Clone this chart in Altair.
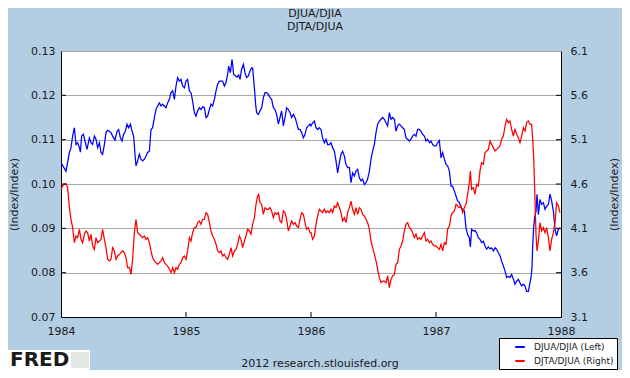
import altair as alt
import pandas as pd

# ---------------- data ----------------
title_lines = ["DJUA/DJIA", "DJTA/DJUA"]
series_names = ["DJUA/DJIA (Left)", "DJTA/DJUA (Right)"]
x_ticks = [1984, 1985, 1986, 1987, 1988]
left_ticks = [0.07, 0.08, 0.09, 0.10, 0.11, 0.12, 0.13]
right_ticks = [3.1, 3.6, 4.1, 4.6, 5.1, 5.6, 6.1]
axis_title = "(Index/Index)"
footer = "2012 research.stlouisfed.org"
logo = "FRED"

djua_djia_t = [
    1984.000, 1984.040, 1984.067, 1984.080, 1984.093, 1984.107, 1984.120, 1984.133, 1984.147, 1984.155,
    1984.165, 1984.179, 1984.192, 1984.208, 1984.227, 1984.240, 1984.253, 1984.267, 1984.280, 1984.293,
    1984.307, 1984.320, 1984.333, 1984.347, 1984.360, 1984.373, 1984.387, 1984.400, 1984.413, 1984.432,
    1984.448, 1984.461, 1984.475, 1984.488, 1984.501, 1984.515, 1984.528, 1984.541, 1984.555, 1984.565,
    1984.581, 1984.592, 1984.600, 1984.613, 1984.627, 1984.640, 1984.653, 1984.667, 1984.680, 1984.693,
    1984.707, 1984.720, 1984.733, 1984.747, 1984.760, 1984.773, 1984.787, 1984.800, 1984.813, 1984.827,
    1984.840, 1984.853, 1984.867, 1984.880, 1984.893, 1984.907, 1984.920, 1984.933, 1984.947, 1984.960,
    1984.973, 1984.987,
    1985.000, 1985.013, 1985.027, 1985.040, 1985.053, 1985.067, 1985.080, 1985.093, 1985.107, 1985.120,
    1985.133, 1985.147, 1985.160, 1985.173, 1985.187, 1985.200, 1985.213, 1985.227, 1985.240, 1985.253,
    1985.267, 1985.280, 1985.293, 1985.307, 1985.320, 1985.333, 1985.341, 1985.355, 1985.368, 1985.373,
    1985.381, 1985.395, 1985.408, 1985.421, 1985.432, 1985.445, 1985.459, 1985.472, 1985.485, 1985.499,
    1985.512, 1985.525, 1985.533, 1985.541, 1985.549, 1985.557, 1985.565, 1985.579, 1985.592, 1985.605,
    1985.619, 1985.632, 1985.645, 1985.659, 1985.672, 1985.685, 1985.699, 1985.712, 1985.725, 1985.739,
    1985.752, 1985.765, 1985.779, 1985.792, 1985.805, 1985.819, 1985.832, 1985.845, 1985.859, 1985.872,
    1985.885, 1985.899, 1985.912, 1985.925, 1985.939, 1985.952, 1985.965, 1985.979, 1985.992,
    1986.000, 1986.013, 1986.027, 1986.040, 1986.053, 1986.067, 1986.080, 1986.093, 1986.107, 1986.120,
    1986.133, 1986.147, 1986.160, 1986.173, 1986.187, 1986.200, 1986.213, 1986.227, 1986.240, 1986.253,
    1986.267, 1986.280, 1986.293, 1986.307, 1986.320, 1986.333, 1986.347, 1986.360, 1986.373, 1986.387,
    1986.400, 1986.413, 1986.427, 1986.440, 1986.453, 1986.467, 1986.480, 1986.493, 1986.507, 1986.520,
    1986.533, 1986.547, 1986.560, 1986.573, 1986.587, 1986.600, 1986.613, 1986.627, 1986.640, 1986.653,
    1986.667, 1986.680, 1986.693, 1986.707, 1986.720, 1986.733, 1986.747, 1986.760, 1986.773, 1986.787,
    1986.800, 1986.813, 1986.827, 1986.840, 1986.853, 1986.867, 1986.880, 1986.893, 1986.907, 1986.920,
    1986.933, 1986.947, 1986.960, 1986.973, 1986.987,
    1987.000, 1987.013, 1987.027, 1987.040, 1987.053, 1987.067, 1987.080, 1987.093, 1987.107, 1987.120,
    1987.133, 1987.147, 1987.160, 1987.173, 1987.187, 1987.200, 1987.213, 1987.227, 1987.240, 1987.253,
    1987.267, 1987.275, 1987.285, 1987.299, 1987.312, 1987.325, 1987.339, 1987.352, 1987.365, 1987.379,
    1987.392, 1987.405, 1987.419, 1987.432, 1987.445, 1987.459, 1987.472, 1987.485, 1987.499, 1987.512,
    1987.525, 1987.539, 1987.552, 1987.565, 1987.579, 1987.592, 1987.605, 1987.619, 1987.632, 1987.645,
    1987.659, 1987.672, 1987.685, 1987.699, 1987.712, 1987.725, 1987.739, 1987.747, 1987.760, 1987.768,
    1987.773, 1987.781, 1987.789, 1987.800, 1987.808, 1987.819, 1987.832, 1987.845, 1987.859, 1987.872,
    1987.885, 1987.899, 1987.912, 1987.925, 1987.939, 1987.952, 1987.965, 1987.979, 1987.992,
]
djua_djia_v = [
    0.1048, 0.1029, 0.1071, 0.1082, 0.1108, 0.1127, 0.1089, 0.1093, 0.1082, 0.1072,
    0.1108, 0.1112, 0.1097, 0.1078, 0.1104, 0.1093, 0.1089, 0.1108, 0.1101, 0.1082,
    0.1093, 0.1071, 0.1067, 0.1089, 0.1116, 0.1121, 0.1119, 0.1116, 0.1108, 0.1099,
    0.1119, 0.1123, 0.1104, 0.1097, 0.1112, 0.1119, 0.1135, 0.1127, 0.1135, 0.1123,
    0.1108, 0.1067, 0.1041, 0.1052, 0.1067, 0.1056, 0.1052, 0.1056, 0.1063, 0.1071,
    0.1074, 0.1123, 0.1127, 0.1150, 0.1168, 0.1176, 0.1183, 0.1176, 0.1180, 0.1176,
    0.1172, 0.1183, 0.1191, 0.1206, 0.1210, 0.1191, 0.1221, 0.1240, 0.1232, 0.1236,
    0.1221, 0.1217,
    0.1232, 0.1236, 0.1210, 0.1206, 0.1187, 0.1161, 0.1153, 0.1165, 0.1172, 0.1168,
    0.1174, 0.1172, 0.1150, 0.1153, 0.1168, 0.1180, 0.1176, 0.1191, 0.1210, 0.1225,
    0.1232, 0.1232, 0.1232, 0.1221, 0.1229, 0.1247, 0.1266, 0.1251, 0.1281, 0.1270,
    0.1247, 0.1244, 0.1241, 0.1246, 0.1236, 0.1259, 0.1270, 0.1251, 0.1240, 0.1244,
    0.1255, 0.1262, 0.1262, 0.1236, 0.1210, 0.1180, 0.1161, 0.1157, 0.1165, 0.1172,
    0.1195, 0.1206, 0.1206, 0.1202, 0.1195, 0.1191, 0.1172, 0.1168, 0.1157, 0.1135,
    0.1150, 0.1165, 0.1131, 0.1150, 0.1172, 0.1168, 0.1161, 0.1150, 0.1157, 0.1150,
    0.1138, 0.1123, 0.1123, 0.1116, 0.1104, 0.1112, 0.1127, 0.1131, 0.1135,
    0.1131, 0.1138, 0.1142, 0.1127, 0.1123, 0.1127, 0.1123, 0.1104, 0.1093, 0.1101,
    0.1089, 0.1089, 0.1093, 0.1082, 0.1074, 0.1052, 0.1025, 0.1048, 0.1067, 0.1074,
    0.1063, 0.1044, 0.1037, 0.1037, 0.1003, 0.1025, 0.1018, 0.1029, 0.1033, 0.1014,
    0.1007, 0.1011, 0.0999, 0.1003, 0.1011, 0.1029, 0.1056, 0.1074, 0.1089, 0.1116,
    0.1135, 0.1142, 0.1146, 0.1150, 0.1146, 0.1138, 0.1131, 0.1161, 0.1146, 0.1150,
    0.1146, 0.1119, 0.1131, 0.1135, 0.1131, 0.1127, 0.1123, 0.1104, 0.1101, 0.1097,
    0.1101, 0.1108, 0.1112, 0.1108, 0.1123, 0.1123, 0.1119, 0.1112, 0.1108, 0.1097,
    0.1101, 0.1093, 0.1097, 0.1089, 0.1086,
    0.1086, 0.1093, 0.1098, 0.1059, 0.1071, 0.1056, 0.1044, 0.1041, 0.1029, 0.0995,
    0.0995, 0.0984, 0.0973, 0.0962, 0.0958, 0.0947, 0.0943, 0.0939, 0.0901, 0.0886,
    0.0879, 0.0858, 0.0898, 0.0894, 0.0895, 0.0890, 0.0879, 0.0875, 0.0868, 0.0871,
    0.0860, 0.0853, 0.0858, 0.0854, 0.0856, 0.0849, 0.0856, 0.0853, 0.0845, 0.0838,
    0.0826, 0.0815, 0.0804, 0.0789, 0.0792, 0.0789, 0.0796, 0.0785, 0.0774, 0.0781,
    0.0785, 0.0777, 0.0770, 0.0774, 0.0770, 0.0758, 0.0758, 0.0770, 0.0789, 0.0811,
    0.0856, 0.0901, 0.0924, 0.0939, 0.0977, 0.0931, 0.0965, 0.0954, 0.0958, 0.0943,
    0.0950, 0.0954, 0.0977, 0.0962, 0.0939, 0.0898, 0.0883, 0.0898, 0.0901,
]

djta_djua_t = [
    1984.000, 1984.013, 1984.027, 1984.040, 1984.053, 1984.067, 1984.080, 1984.093, 1984.107, 1984.120,
    1984.133, 1984.147, 1984.160, 1984.173, 1984.187, 1984.200, 1984.213, 1984.227, 1984.240, 1984.253,
    1984.267, 1984.280, 1984.293, 1984.307, 1984.320, 1984.333, 1984.347, 1984.360, 1984.373, 1984.387,
    1984.400, 1984.413, 1984.427, 1984.440, 1984.453, 1984.467, 1984.480, 1984.493, 1984.507, 1984.520,
    1984.533, 1984.547, 1984.560, 1984.573, 1984.587, 1984.600, 1984.613, 1984.627, 1984.640, 1984.653,
    1984.667, 1984.680, 1984.693, 1984.707, 1984.720, 1984.733, 1984.747, 1984.760, 1984.773, 1984.787,
    1984.800, 1984.813, 1984.827, 1984.840, 1984.853, 1984.867, 1984.880, 1984.893, 1984.907, 1984.920,
    1984.933, 1984.947, 1984.960, 1984.973, 1984.987,
    1985.000, 1985.013, 1985.027, 1985.040, 1985.053, 1985.067, 1985.080, 1985.093, 1985.107, 1985.120,
    1985.133, 1985.147, 1985.160, 1985.173, 1985.187, 1985.200, 1985.213, 1985.227, 1985.240, 1985.253,
    1985.267, 1985.280, 1985.293, 1985.307, 1985.320, 1985.333, 1985.347, 1985.360, 1985.373, 1985.387,
    1985.400, 1985.413, 1985.427, 1985.440, 1985.453, 1985.467, 1985.480, 1985.493, 1985.507, 1985.520,
    1985.533, 1985.547, 1985.560, 1985.573, 1985.581, 1985.592, 1985.605, 1985.619, 1985.632, 1985.645,
    1985.659, 1985.672, 1985.685, 1985.699, 1985.712, 1985.725, 1985.739, 1985.752, 1985.765, 1985.779,
    1985.792, 1985.805, 1985.819, 1985.832, 1985.845, 1985.859, 1985.872, 1985.885, 1985.899, 1985.912,
    1985.925, 1985.939, 1985.952, 1985.965, 1985.979, 1985.992,
    1986.000, 1986.013, 1986.027, 1986.040, 1986.053, 1986.067, 1986.080, 1986.093, 1986.107, 1986.120,
    1986.133, 1986.147, 1986.160, 1986.173, 1986.187, 1986.200, 1986.213, 1986.227, 1986.240, 1986.253,
    1986.267, 1986.280, 1986.293, 1986.307, 1986.320, 1986.333, 1986.347, 1986.360, 1986.373, 1986.387,
    1986.400, 1986.413, 1986.427, 1986.440, 1986.453, 1986.467, 1986.480, 1986.493, 1986.507, 1986.520,
    1986.533, 1986.547, 1986.560, 1986.573, 1986.587, 1986.600, 1986.613, 1986.627, 1986.640, 1986.653,
    1986.667, 1986.680, 1986.693, 1986.707, 1986.720, 1986.733, 1986.747, 1986.760, 1986.773, 1986.787,
    1986.800, 1986.813, 1986.827, 1986.840, 1986.853, 1986.867, 1986.880, 1986.893, 1986.907, 1986.920,
    1986.933, 1986.947, 1986.960, 1986.973, 1986.987,
    1987.000, 1987.013, 1987.027, 1987.040, 1987.053, 1987.067, 1987.080, 1987.093, 1987.107, 1987.120,
    1987.133, 1987.147, 1987.160, 1987.173, 1987.187, 1987.200, 1987.213, 1987.227, 1987.240, 1987.253,
    1987.267, 1987.275, 1987.285, 1987.299, 1987.312, 1987.325, 1987.339, 1987.352, 1987.365, 1987.379,
    1987.392, 1987.405, 1987.419, 1987.432, 1987.445, 1987.459, 1987.472, 1987.485, 1987.499, 1987.512,
    1987.525, 1987.539, 1987.552, 1987.565, 1987.579, 1987.592, 1987.605, 1987.619, 1987.632, 1987.645,
    1987.659, 1987.672, 1987.685, 1987.699, 1987.712, 1987.725, 1987.739, 1987.752, 1987.765, 1987.773,
    1987.781, 1987.789, 1987.800, 1987.808, 1987.819, 1987.832, 1987.845, 1987.859, 1987.872, 1987.885,
    1987.899, 1987.912, 1987.925, 1987.939, 1987.952, 1987.965, 1987.979, 1987.992,
]
djta_djua_v = [
    4.540, 4.577, 4.596, 4.604, 4.559, 4.333, 4.202, 4.108, 3.938, 4.014,
    3.995, 4.089, 3.976, 3.938, 4.033, 4.070, 4.051, 3.957, 4.033, 3.901,
    3.863, 3.995, 3.938, 3.957, 3.976, 4.089, 3.976, 3.882, 3.751, 3.732,
    3.751, 3.882, 3.845, 3.751, 3.788, 3.807, 3.826, 3.845, 3.826, 3.769,
    3.657, 3.657, 3.581, 3.751, 4.051, 4.202, 4.051, 4.033, 4.014, 3.995,
    4.014, 3.976, 3.995, 3.938, 3.845, 3.769, 3.732, 3.713, 3.694, 3.713,
    3.732, 3.769, 3.713, 3.694, 3.675, 3.638, 3.600, 3.657, 3.600, 3.657,
    3.638, 3.694, 3.713, 3.769, 3.788,
    3.751, 3.845, 3.995, 3.957, 4.051, 4.108, 4.108, 4.164, 4.183, 4.145,
    4.202, 4.202, 4.277, 4.258, 4.164, 4.070, 4.014, 3.976, 3.920, 3.845,
    3.826, 3.845, 3.788, 3.807, 3.769, 3.751, 3.807, 3.882, 3.788, 3.845,
    3.863, 3.920, 4.014, 3.976, 3.882, 3.957, 4.014, 4.089, 4.070, 4.033,
    4.145, 4.220, 4.371, 4.465, 4.484, 4.390, 4.371, 4.258, 4.333, 4.315,
    4.315, 4.333, 4.296, 4.220, 4.277, 4.258, 4.277, 4.183, 4.164, 4.296,
    4.277, 4.202, 4.070, 4.126, 4.183, 4.145, 4.164, 4.126, 4.108, 4.202,
    4.277, 4.258, 4.164, 4.089, 4.108, 4.051,
    4.051, 3.976, 4.014, 4.145, 4.239, 4.315, 4.296, 4.277, 4.315, 4.277,
    4.296, 4.277, 4.315, 4.277, 4.352, 4.333, 4.390, 4.333, 4.277, 4.183,
    4.220, 4.164, 4.277, 4.333, 4.408, 4.315, 4.258, 4.333, 4.258, 4.333,
    4.315, 4.258, 4.239, 4.202, 4.164, 4.089, 3.957, 3.882, 3.807, 3.732,
    3.638, 3.544, 3.487, 3.506, 3.506, 3.487, 3.563, 3.431, 3.525, 3.563,
    3.581, 3.694, 3.713, 3.863, 3.901, 3.957, 4.070, 4.145, 4.164, 4.108,
    4.089, 4.051, 3.995, 4.033, 3.976, 3.995, 3.976, 4.014, 4.051, 3.957,
    3.976, 3.938, 3.957, 3.920, 3.901,
    3.901, 3.882, 3.863, 3.920, 3.845, 3.938, 3.920, 4.089, 4.126, 4.239,
    4.277, 4.296, 4.371, 4.352, 4.333, 4.352, 4.277, 4.333, 4.371, 4.484,
    4.615, 4.747, 4.540, 4.559, 4.484, 4.596, 4.578, 4.747, 4.841, 4.822,
    4.953, 4.972, 4.991, 5.085, 5.047, 5.010, 4.972, 4.991, 5.010, 5.029,
    5.104, 5.141, 5.254, 5.329, 5.292, 5.311, 5.217, 5.141, 5.217, 5.160,
    5.123, 5.066, 5.141, 5.235, 5.198, 5.292, 5.311, 5.273, 5.273, 5.123,
    4.916, 4.559, 4.033, 3.845, 3.957, 4.164, 4.070, 4.108, 4.051, 4.108,
    3.995, 3.845, 3.976, 4.051, 4.164, 4.390, 4.352, 4.277,
]

# ---------------- styling ----------------
FONT = "DejaVu Sans"
TEXT = "#1a1a1a"
BG = "#B3CDE3"
GRID = "#A8A8A8"
W, H = 500, 266

blue_df = pd.DataFrame({"t": djua_djia_t, "v": djua_djia_v, "series": series_names[0]})
red_df = pd.DataFrame({"t": djta_djua_t, "v": djta_djua_v, "series": series_names[1]})

x_scale = alt.Scale(domain=[x_ticks[0], x_ticks[-1]], nice=False, zero=False)
left_scale = alt.Scale(domain=[left_ticks[0], left_ticks[-1]], nice=False, zero=False)
right_scale = alt.Scale(domain=[right_ticks[0], right_ticks[-1]], nice=False, zero=False)

color = alt.Color(
    "series:N",
    scale=alt.Scale(domain=series_names, range=["#0000FF", "#FF0000"]),
    legend=alt.Legend(
        title=None, orient="none", legendX=438, legendY=287,
        fillColor="white", strokeColor="black", padding=3,
        symbolType="stroke", symbolStrokeWidth=2, symbolSize=90, symbolOffset=12,
        labelFont=FONT, labelFontSize=9, labelColor=TEXT, labelOffset=8, rowPadding=3,
    ),
)

x_enc = alt.X(
    "t:Q", scale=x_scale,
    axis=alt.Axis(values=x_ticks, format="d", title=None, grid=False, tickSize=0,
                  labelPadding=8, labelFlush=False, domainColor="black",
                  labelFont=FONT, labelFontSize=11, labelColor=TEXT),
)

blue = alt.Chart(blue_df).mark_line(strokeWidth=1.25, clip=True).encode(
    x=x_enc,
    y=alt.Y("v:Q", scale=left_scale,
            axis=alt.Axis(orient="left", values=left_ticks, format=".2f", grid=True,
                          gridColor=GRID, tickSize=0, labelPadding=6, domainColor="black",
                          labelFont=FONT, labelFontSize=11, labelColor=TEXT,
                          title=axis_title, titleFont=FONT, titleFontSize=11,
                          titleFontWeight="normal", titleColor=TEXT, titleAngle=270,
                          titleX=-47, titleY=143, titleAlign="center", titleBaseline="middle")),
    color=color,
)

red = alt.Chart(red_df).mark_line(strokeWidth=1.25, clip=True).encode(
    x=alt.X("t:Q", scale=x_scale),
    y=alt.Y("v:Q", scale=right_scale,
            axis=alt.Axis(orient="right", values=right_ticks, format=".1f", grid=False,
                          tickSize=0, labelPadding=9, domainColor="black",
                          labelFont=FONT, labelFontSize=11, labelColor=TEXT,
                          title=axis_title, titleFont=FONT, titleFontSize=11,
                          titleFontWeight="normal", titleColor=TEXT, titleAngle=270,
                          titleX=53, titleY=143, titleAlign="center", titleBaseline="middle")),
    color=color,
)

# inward tick marks
xtick_df = pd.DataFrame({"t": x_ticks[1:-1]})
xticks = alt.Chart(xtick_df).mark_rule(color="black").encode(
    x=alt.X("t:Q", scale=x_scale), y=alt.value(H - 5), y2=alt.value(H)
)
ltick_df = pd.DataFrame({"v": left_ticks[1:-1]})
lticks = alt.Chart(ltick_df).mark_rule(color="black").encode(
    y=alt.Y("v:Q", scale=left_scale, axis=None), x=alt.value(0), x2=alt.value(5)
)
rtick_df = pd.DataFrame({"v": right_ticks[1:-1]})
rticks = alt.Chart(rtick_df).mark_rule(color="black").encode(
    y=alt.Y("v:Q", scale=right_scale, axis=None), x=alt.value(W - 5), x2=alt.value(W)
)

# titles and annotations
t1 = alt.Chart(pd.DataFrame({"s": [title_lines[0]]})).mark_text(
    font=FONT, fontSize=11, color=TEXT, align="center", baseline="middle"
).encode(text="s:N", x=alt.value(254), y=alt.value(-37))
t2 = alt.Chart(pd.DataFrame({"s": [title_lines[1]]})).mark_text(
    font=FONT, fontSize=11, color=TEXT, align="center", baseline="middle"
).encode(text="s:N", x=alt.value(254), y=alt.value(-24))

foot = alt.Chart(pd.DataFrame({"s": [footer]})).mark_text(
    font=FONT, fontSize=11, color=TEXT, align="center", baseline="middle"
).encode(text="s:N", x=alt.value(259), y=alt.value(313))

logo_box = alt.Chart(pd.DataFrame({"s": [logo]})).mark_rect(fill="white").encode(
    x=alt.value(-53), x2=alt.value(29), y=alt.value(299), y2=alt.value(319)
)
logo_icon = alt.Chart(pd.DataFrame({"s": [logo]})).mark_rect(fill="#E3E7E3").encode(
    x=alt.value(10), x2=alt.value(28), y=alt.value(301), y2=alt.value(317)
)
logo_txt = alt.Chart(pd.DataFrame({"s": [logo]})).mark_text(
    font="DejaVu Sans", fontSize=20, fontWeight="bold", color="#1a1a1a",
    align="left", baseline="alphabetic"
).encode(text="s:N", x=alt.value(-51), y=alt.value(315))

chart = alt.layer(
    blue, red, xticks, lticks, rticks, t1, t2, foot, logo_box, logo_icon, logo_txt
).resolve_scale(y="independent").properties(
    width=W, height=H,
    padding={"left": 53, "top": 43, "right": 61, "bottom": 53},
    autosize=alt.AutoSizeParams(type="none"),
    background=BG,
).configure_view(stroke=GRID, fill="white")

chart.save("out.html", embed_options={"renderer": "svg", "actions": False})
